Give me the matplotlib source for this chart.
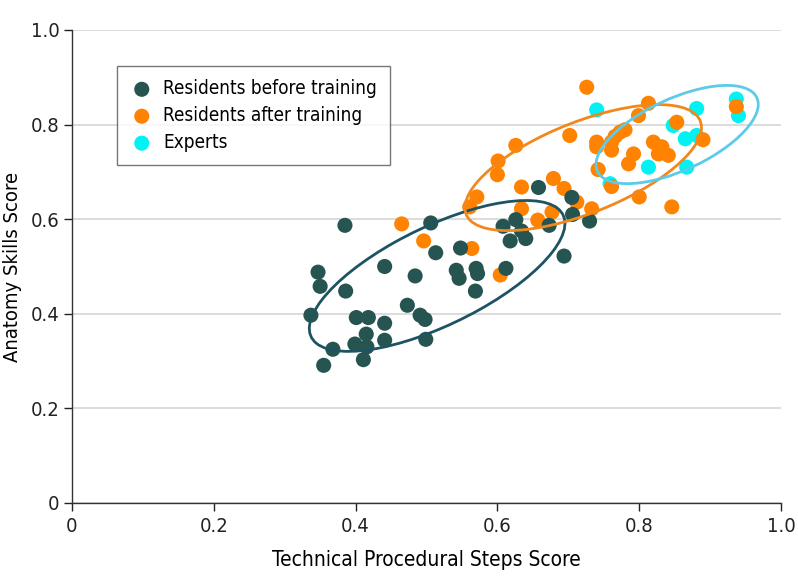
import numpy as np
import matplotlib
matplotlib.use("Agg")
import matplotlib.pyplot as plt
from matplotlib.patches import Ellipse

plt.rcParams['font.family'] = ['DejaVu Sans']
plt.rcParams['font.stretch'] = 'condensed'

# Residents before training (technical, anatomy)
before_x = [0.337, 0.347, 0.350, 0.368, 0.355, 0.385, 0.386, 0.401, 0.399, 0.418,
            0.415, 0.411, 0.416, 0.441, 0.441, 0.441, 0.473, 0.484, 0.491, 0.498,
            0.499, 0.506, 0.513, 0.542, 0.548, 0.546, 0.570, 0.572, 0.569, 0.612,
            0.608, 0.618, 0.626, 0.634, 0.640, 0.658, 0.673, 0.694, 0.706, 0.705,
            0.730]
before_y = [0.397, 0.488, 0.458, 0.325, 0.291, 0.587, 0.448, 0.392, 0.336, 0.392,
            0.357, 0.303, 0.330, 0.500, 0.380, 0.344, 0.418, 0.480, 0.397, 0.388,
            0.346, 0.592, 0.529, 0.492, 0.539, 0.475, 0.496, 0.485, 0.448, 0.496,
            0.585, 0.554, 0.599, 0.575, 0.559, 0.667, 0.587, 0.522, 0.610, 0.646,
            0.596]

# Residents after training
after_x = [0.465, 0.496, 0.564, 0.604, 0.561, 0.571, 0.600, 0.601, 0.626, 0.634,
           0.634, 0.679, 0.694, 0.657, 0.677, 0.712, 0.733, 0.702, 0.726, 0.740,
           0.740, 0.742, 0.761, 0.761, 0.761, 0.766, 0.773, 0.780, 0.792, 0.785,
           0.799, 0.813, 0.800, 0.820, 0.832, 0.827, 0.841, 0.853, 0.846, 0.890,
           0.937]
after_y = [0.590, 0.554, 0.538, 0.482, 0.626, 0.647, 0.694, 0.723, 0.756, 0.668,
           0.622, 0.686, 0.665, 0.598, 0.615, 0.636, 0.622, 0.777, 0.879, 0.763,
           0.753, 0.705, 0.669, 0.763, 0.746, 0.775, 0.784, 0.789, 0.738, 0.717,
           0.819, 0.845, 0.647, 0.763, 0.753, 0.738, 0.735, 0.805, 0.626, 0.768,
           0.838]

# Experts
expert_x = [0.740, 0.881, 0.937, 0.940, 0.848, 0.865, 0.881, 0.813, 0.867, 0.759]
expert_y = [0.831, 0.834, 0.854, 0.819, 0.798, 0.770, 0.777, 0.710, 0.710, 0.675]

# group ellipses: centre, full axes, angle (data units / degrees)
ell_center = [(0.515, 0.480), (0.721, 0.709), (0.8535, 0.779)]
ell_width = [0.444, 0.389, 0.278]
ell_height = [0.186, 0.176, 0.135]
ell_angle = [40.0, 35.2, 40.5]

labels = ["Residents before training", "Residents after training", "Experts"]
dot_colors = ["#265451", "#ff8300", "#00f2f2"]
ring_colors = ["#1d5363", "#f2881c", "#5ccbe8"]

fig = plt.figure(figsize=(7.98, 5.88), dpi=100)
ax = fig.add_axes([0.0902, 0.1446, 0.8885, 0.8044])

groups = [(before_x, before_y), (after_x, after_y), (expert_x, expert_y)]
zorders = [3.2, 3.1, 3.0]
for (gx, gy), lab, c, z in zip(groups, labels, dot_colors, zorders):
    ax.scatter(gx, gy, s=118, color=c, edgecolors='none', label=lab, zorder=z)

for i, c in enumerate(ring_colors):
    ax.add_patch(Ellipse(ell_center[i], ell_width[i], ell_height[i],
                         angle=ell_angle[i], fill=False, edgecolor=c,
                         lw=2.0, zorder=4))

ax.set_xlim(0, 1.0)
ax.set_ylim(0, 1.0)
ticks = [0, 0.2, 0.4, 0.6, 0.8, 1.0]
tick_labels = ["0", "0.2", "0.4", "0.6", "0.8", "1.0"]
ax.set_xticks(ticks)
ax.set_xticklabels(tick_labels)
ax.set_yticks(ticks)
ax.set_yticklabels(tick_labels)
ax.yaxis.grid(True, color="#d9d9d9", lw=1.3)
ax.set_axisbelow(True)
for s in ["top", "right"]:
    ax.spines[s].set_visible(False)
for s in ["left", "bottom"]:
    ax.spines[s].set_color("#333333")
    ax.spines[s].set_linewidth(1.0)
ax.tick_params(colors="#222222", labelsize=14.5, length=6, width=1.0)
ax.tick_params(axis='x', pad=4)
ax.tick_params(axis='y', pad=3)

ax.set_xlabel("Technical Procedural Steps Score", fontsize=15, labelpad=10)
ax.set_ylabel("Anatomy Skills Score", fontsize=14.5, labelpad=6)

leg = ax.legend(loc="upper left", bbox_to_anchor=(0.063, 0.923), fontsize=13.6,
                frameon=True, fancybox=False, edgecolor="#555555",
                borderaxespad=0, handletextpad=0.5, borderpad=0.68,
                labelspacing=0.42, handlelength=1.3, scatterpoints=1)
leg.get_frame().set_linewidth(1.0)

fig.savefig("out.png", dpi=100)
